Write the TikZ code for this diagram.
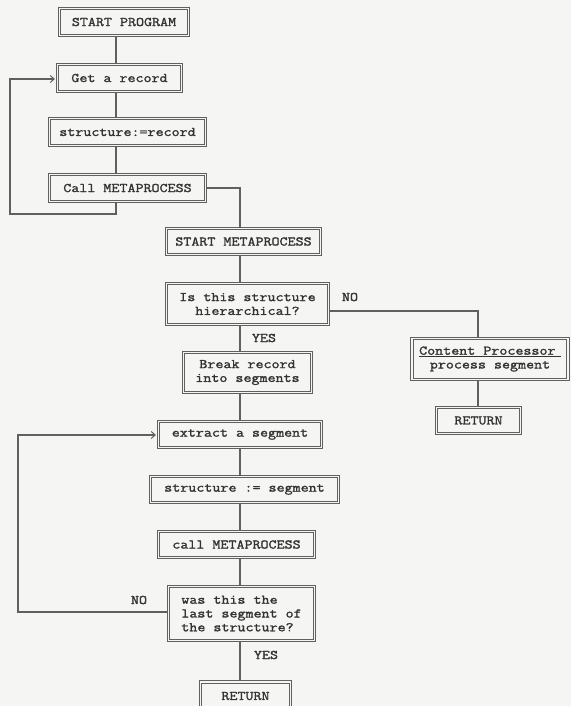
\documentclass[tikz,border=0pt]{standalone}
\usepackage{fontspec}
\newfontfamily\courfont{Latin Modern Mono}[FakeStretch=1.18, FakeBold=1.6]
\usetikzlibrary{arrows.meta}
\definecolor{paper}{HTML}{F5F5F3}
\definecolor{ink}{HTML}{333333}
\definecolor{rule}{HTML}{606060}
\tikzset{
  box/.style={draw=rule, line width=1.1pt, double=paper, double distance=1.6pt,
    fill=paper, inner sep=0pt, text=ink, align=center,
    font=\courfont\fontsize{13.2}{13.8}\selectfont},
  lbl/.style={text=ink, inner sep=0pt, font=\courfont\fontsize{13.2}{13.8}\selectfont},
  conn/.style={draw=rule, line width=1.1pt},
  tip/.style={-{Straight Barb[length=4pt,width=7pt,line width=1pt]}},
}
\begin{document}
\begin{tikzpicture}[x=1pt,y=-1pt]
\fill[paper] (0,0) rectangle (571,706);
\useasboundingbox (0,0) rectangle (571,706);
\begin{scope}
\clip (0,0) rectangle (571,706);
% column guides
\coordinate (c1) at (116,0);
\coordinate (c2) at (240,0);
\coordinate (c3) at (478,0);
% first column
\node[box, minimum width=129pt, minimum height=27pt] (sp) at (124,22) {START PROGRAM};
\node[box, minimum width=124pt, minimum height=27pt] (gr) at (119.5,78) {Get a record};
\node[box, minimum width=156pt, minimum height=27pt] (sr) at (127.5,132) {structure:=record};
\node[box, minimum width=156pt, minimum height=27pt] (cm) at (127.5,188) {Call METAPROCESS};
% second column
\node[box, minimum width=154pt, minimum height=26pt] (sm) at (243.5,241.5) {START METAPROCESS};
\node[box, minimum width=162pt, minimum height=41pt] (is) at (247.5,304) {Is this structure\\hierarchical?};
\node[box, minimum width=128pt, minimum height=40pt] (br) at (247.5,372.5) {Break record\\into segments};
\node[box, minimum width=163pt, minimum height=26pt] (es) at (240,434.5) {extract a segment};
\node[box, minimum width=188pt, minimum height=26pt] (ss) at (244.5,489.5) {structure := segment};
\node[box, minimum width=156pt, minimum height=26pt] (cm2) at (236.5,544.5) {call METAPROCESS};
\node[box, minimum width=146pt, minimum height=54pt, align=left] (wt) at (241.5,613.5) {was this the\\last segment of\\the structure?};
\node[box, minimum width=90pt, minimum height=28pt] (rt) at (245.5,696) {RETURN};
% right column
\node[box, minimum width=156pt, minimum height=41pt] (cp) at (490,359) {\underline{Content Processor\hspace{0.4em}}\\process segment};
\node[box, minimum width=84pt, minimum height=26pt] (rt2) at (478.5,420.5) {RETURN};
% labels
\node[lbl] (no1) at (350,297) {NO};
\node[lbl] (yes1) at (264,338) {YES};
\node[lbl] (no2) at (139,600) {NO};
\node[lbl] (yes2) at (266,655) {YES};
% connectors first column
\draw[conn] (c1 |- sp.south) -- (c1 |- gr.north);
\draw[conn] (c1 |- gr.south) -- (c1 |- sr.north);
\draw[conn] (c1 |- sr.south) -- (c1 |- cm.north);
\coordinate (l1a) at (116,214);
\coordinate (l1b) at (10,214);
\coordinate (l1c) at (10,79);
\draw[conn, tip] (c1 |- cm.south) -- (l1a) -- (l1b) -- (l1c) -- ([xshift=-2pt]gr.west |- l1c);
\draw[conn] (cm.east) -| (sm.north -| c2);
% connectors second column
\draw[conn] (c2 |- sm.south) -- (c2 |- is.north);
\draw[conn] (c2 |- is.south) -- (c2 |- br.north);
\draw[conn] (c2 |- br.south) -- (c2 |- es.north);
\draw[conn] (c2 |- es.south) -- (c2 |- ss.north);
\draw[conn] (c2 |- ss.south) -- (c2 |- cm2.north);
\draw[conn] (c2 |- cm2.south) -- (c2 |- wt.north);
\draw[conn] (c2 |- wt.south) -- (c2 |- rt.north);
\coordinate (l2a) at (18,612);
\coordinate (l2b) at (18,435);
\draw[conn, tip] (wt.west |- l2a) -- (l2a) -- (l2b) -- ([xshift=-2pt]es.west |- l2b);
% NO branch
\coordinate (nb) at (478,311);
\draw[conn] (is.east |- nb) -- (nb) -- (c3 |- cp.north);
\draw[conn] (c3 |- cp.south) -- (c3 |- rt2.north);
\end{scope}
\end{tikzpicture}
\end{document}
